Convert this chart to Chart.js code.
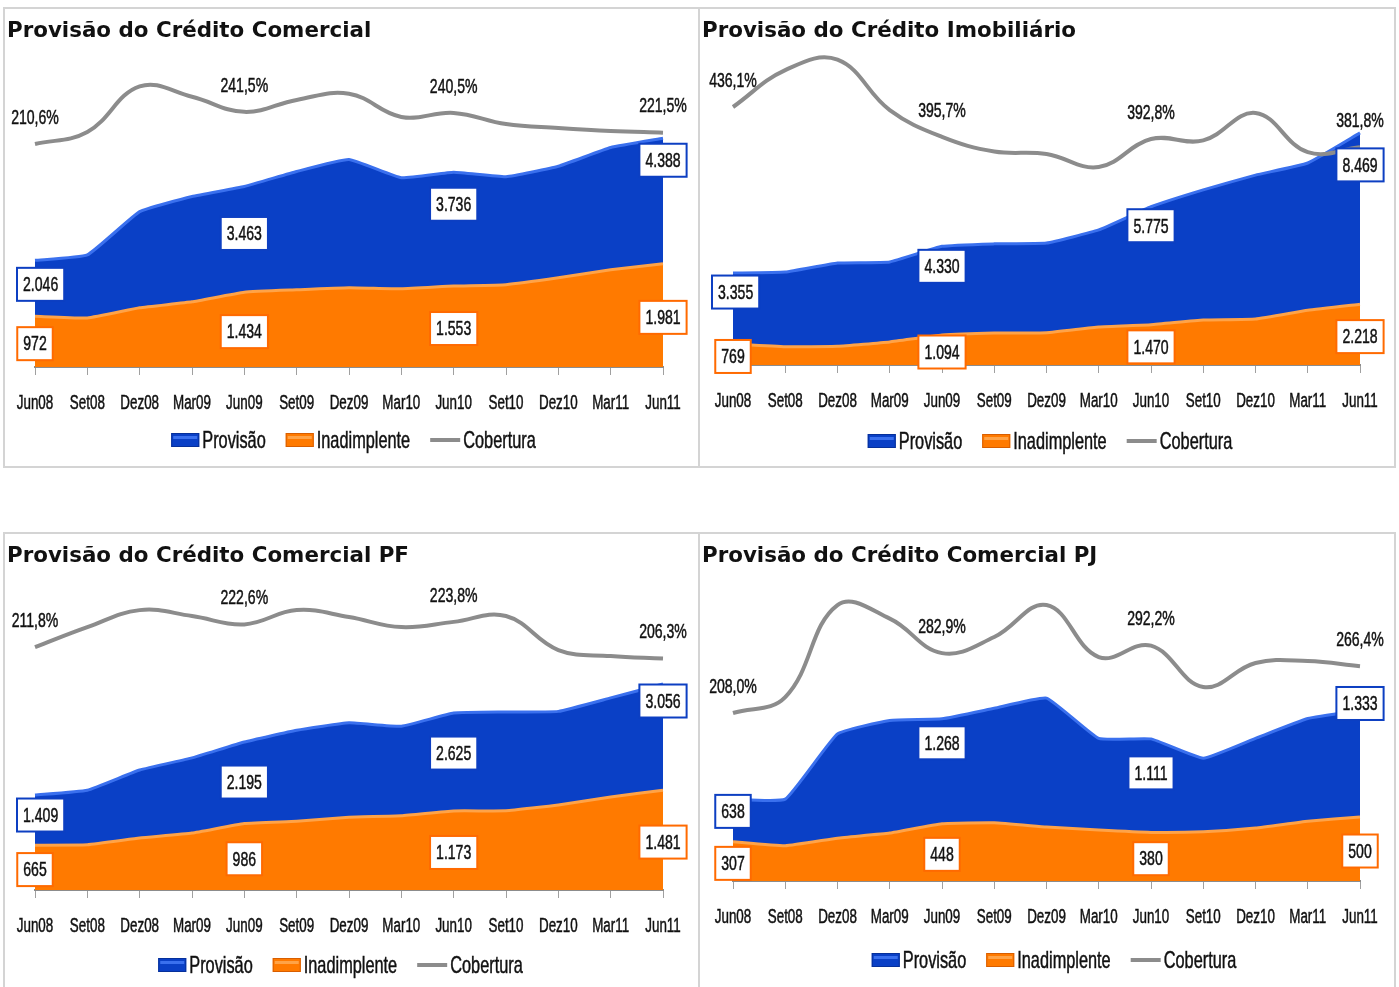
<!DOCTYPE html>
<html lang="pt-BR">
<head>
<meta charset="utf-8">
<title>Provisão do Crédito</title>
<script src="https://cdn.jsdelivr.net/npm/chart.js@4.4.1/dist/chart.umd.min.js"></script>
<style>
  html, body { margin: 0; padding: 0; background: #fff; overflow: hidden; width: 1399px; height: 987px; }
  .panel { position: absolute; box-sizing: border-box; border: 2px solid #d4d4d4; background: #fff; overflow: hidden; }
  .panel h2 { position: absolute; left: 2px; top: 8px; margin: 0; font: bold 21.4px 'DejaVu Sans', sans-serif; line-height: 26px; color: #111; white-space: nowrap; z-index: 2; }
  .panel canvas { position: absolute; left: 0; top: 0; }
</style>
</head>
<body>

<div class="panel" style="left:3px; top:7px; width:697px; height:461px;">
  <h2>Provisão do Crédito Comercial</h2>
  <canvas id="c1" width="693" height="457"></canvas>
</div>
<div class="panel" style="left:698px; top:7px; width:698px; height:461px;">
  <h2>Provisão do Crédito Imobiliário</h2>
  <canvas id="c2" width="694" height="457"></canvas>
</div>
<div class="panel" style="left:3px; top:532px; width:697px; height:461px;">
  <h2>Provisão do Crédito Comercial PF</h2>
  <canvas id="c3" width="693" height="457"></canvas>
</div>
<div class="panel" style="left:698px; top:532px; width:698px; height:461px;">
  <h2>Provisão do Crédito Comercial PJ</h2>
  <canvas id="c4" width="694" height="457"></canvas>
</div>

<script>
const categories = ['Jun08', 'Set08', 'Dez08', 'Mar09', 'Jun09', 'Set09', 'Dez09', 'Mar10', 'Jun10', 'Set10', 'Dez10', 'Mar11', 'Jun11'];
const labelAt = [0, 4, 8, 12];
const seriesNames = ['Provisão', 'Inadimplente', 'Cobertura'];

// Crédito Comercial
const comProvisao = [2046, 2150, 2980, 3270, 3463, 3750, 3980, 3630, 3736, 3650, 3850, 4210, 4388];
const comInadimplente = [972, 940, 1135, 1250, 1434, 1480, 1520, 1500, 1553, 1580, 1710, 1865, 1981];
const comCobertura = [210.6, 222.1, 266.0, 256.0, 241.5, 253.0, 259.0, 236.6, 240.5, 229.8, 226.0, 223.1, 221.5];

// Crédito Imobiliário
const imoProvisao = [3355, 3390, 3720, 3760, 4330, 4420, 4450, 4930, 5775, 6390, 6930, 7370, 8469];
const imoInadimplente = [769, 670, 680, 840, 1094, 1170, 1180, 1390, 1470, 1640, 1680, 2000, 2218];
const imoCobertura = [436.1, 486.0, 500.0, 432.0, 395.7, 376.0, 372.6, 355.0, 392.8, 391.0, 428.0, 375.0, 381.8];

// Crédito Comercial PF
const pfProvisao = [1409, 1480, 1780, 1960, 2195, 2370, 2480, 2430, 2625, 2640, 2650, 2850, 3056];
const pfInadimplente = [665, 670, 770, 845, 986, 1020, 1080, 1100, 1173, 1175, 1260, 1380, 1481];
const pfCobertura = [211.8, 221.3, 229.4, 226.6, 222.6, 229.4, 226.1, 221.3, 223.8, 226.6, 210.4, 207.5, 206.3];

// Crédito Comercial PJ
const pjProvisao = [638, 640, 1150, 1255, 1268, 1350, 1430, 1115, 1111, 960, 1115, 1270, 1333];
const pjInadimplente = [307, 275, 335, 375, 448, 455, 422, 398, 380, 385, 414, 467, 500];
const pjCobertura = [208.0, 228.0, 343.0, 326.0, 282.9, 303.0, 343.0, 278.0, 292.2, 240.5, 270.5, 273.0, 266.4];

const FONT = "'Liberation Sans', Arial, sans-serif";
const BLUE = '#0a40c6';
const BLUE_EDGE = '#3a70ee';
const ORANGE = '#ff7a00';
const ORANGE_EDGE = '#ffa347';
const GRAY = '#8c8c8c';

const fmtNum = v => String(v).replace(/\B(?=(\d{3})+(?!\d))/g, '.');
const fmtPct = v => v.toFixed(1).replace('.', ',') + '%';

// the original uses a very condensed face, so text is squeezed horizontally
function narrow(ctx, text, x, y, size, sx) {
    ctx.save();
    ctx.translate(x, y);
    ctx.scale(sx, 1);
    ctx.font = size + 'px ' + FONT;
    ctx.fillText(text, 0, 0);
    ctx.strokeStyle = ctx.fillStyle;
    ctx.lineWidth = 0.5;
    ctx.strokeText(text, 0, 0);
    ctx.restore();
}
function narrowWidth(ctx, text, size, sx) {
    ctx.save();
    ctx.font = size + 'px ' + FONT;
    const w = ctx.measureText(text).width * sx;
    ctx.restore();
    return w;
}

const annotate = {
    id: 'annotate',
    afterDatasetsDraw(chart, args, opts) {
        const ctx = chart.ctx;
        const area = chart.chartArea;
        const ds = chart.data.datasets;
        const xs = chart.scales.x;
        ctx.save();
        ctx.textBaseline = 'middle';
        ctx.fillStyle = '#111';

        // category labels under the ticks
        ctx.textAlign = 'center';
        chart.data.labels.forEach((lab, i) => {
            narrow(ctx, lab, xs.getPixelForTick(i), area.bottom + 36, 20, 0.67);
        });

        const drawBox = (x, y, text, color) => {
            const w = narrowWidth(ctx, text, 21, 0.67) + 12;
            const h = 33;
            x = Math.max(x, w / 2 + 12);
            ctx.fillStyle = '#fff';
            ctx.fillRect(x - w / 2, y - h / 2, w, h);
            ctx.lineWidth = 2;
            ctx.strokeStyle = color;
            ctx.strokeRect(x - w / 2, y - h / 2, w, h);
            ctx.fillStyle = '#111';
            narrow(ctx, text, x, y + 1, 21, 0.67);
        };

        labelAt.forEach((i, k) => {
            const pProv = chart.getDatasetMeta(0).data[i];
            const pInad = chart.getDatasetMeta(1).data[i];
            const pCob = chart.getDatasetMeta(2).data[i];
            drawBox(pProv.x, pProv.y + opts.provDy[k], fmtNum(ds[0].data[i]), '#0d3fc2');
            drawBox(pInad.x, (pInad.y + area.bottom) / 2 + 2, fmtNum(ds[1].data[i]), '#ff6a00');
            const t = fmtPct(ds[2].data[i]);
            const tw = narrowWidth(ctx, t, 21, 0.67);
            ctx.fillStyle = '#111';
            narrow(ctx, t, Math.max(pCob.x, tw / 2 + 6), pCob.y - 26, 21, 0.67);
        });

        // legend
        const size = 24, sx = 0.68;
        const items = seriesNames.map((name, k) => ({ name, k, w: narrowWidth(ctx, name, size, sx) }));
        const total = items.reduce((s, it) => s + 31 + it.w, 0) + 2 * 20 + 2;
        let x = chart.width / 2 - total / 2 + opts.legendDx;
        const y = area.bottom + opts.legendDy;
        ctx.textAlign = 'left';
        items.forEach(it => {
            const d = ds[it.k];
            if (it.k < 2) {
                ctx.fillStyle = d.backgroundColor;
                ctx.fillRect(x, y - 7, 28, 14);
                ctx.fillStyle = d.borderColor;
                ctx.fillRect(x + 2, y - 4, 24, 3);
                ctx.strokeStyle = it.k === 0 ? '#06309a' : '#d85e00';
                ctx.lineWidth = 1;
                ctx.strokeRect(x + 0.5, y - 6.5, 27, 13);
                x += 31;
            } else {
                ctx.strokeStyle = d.borderColor;
                ctx.lineWidth = 4;
                ctx.beginPath();
                ctx.moveTo(x, y);
                ctx.lineTo(x + 30, y);
                ctx.stroke();
                x += 33;
            }
            ctx.fillStyle = '#111';
            narrow(ctx, it.name, x, y + 1, size, sx);
            x += it.w + 20;
        });
        ctx.restore();
    }
};

function makeChart(id, prov, inad, cob, opt) {
    return new Chart(document.getElementById(id), {
        type: 'line',
        data: {
            labels: categories,
            datasets: [
                { label: seriesNames[0], data: prov, yAxisID: 'y', fill: 'origin', backgroundColor: BLUE, borderColor: BLUE_EDGE, borderWidth: 3, pointRadius: 0, tension: 0.12, order: 3 },
                { label: seriesNames[1], data: inad, yAxisID: 'y', fill: 'origin', backgroundColor: ORANGE, borderColor: ORANGE_EDGE, borderWidth: 3, pointRadius: 0, tension: 0.12, order: 2 },
                { label: seriesNames[2], data: cob, yAxisID: 'y2', fill: false, borderColor: GRAY, borderWidth: 4, pointRadius: 0, tension: 0.4, order: 1 }
            ]
        },
        options: {
            responsive: false,
            animation: false,
            layout: { padding: { top: 40, left: opt.left, right: opt.right, bottom: 80 } },
            plugins: {
                tooltip: { enabled: false },
                legend: { display: false },
                annotate: { provDy: opt.provDy, legendDy: opt.legendDy, legendDx: opt.legendDx }
            },
            scales: {
                x: {
                    offset: false,
                    grid: { drawOnChartArea: false, drawTicks: true, tickLength: 8, color: '#a0a0a0' },
                    border: { display: true, color: '#8c8c8c', width: 2 },
                    ticks: { display: false, autoSkip: false }
                },
                y: { display: false, min: 0, max: opt.yMax },
                y2: { display: false, min: opt.cMin, max: opt.cMax }
            }
        },
        plugins: [annotate]
    });
}

const layouts = [
    { left: 30, right: 35, bottom: 358, yMax: 6100, cMin: -4, cMax: 302, provDy: [24, 47, 32, 22], legendDy: 73, legendDx: 2 },
    { left: 33, right: 34, bottom: 356, yMax: 11530, cMin: 87.4, cMax: 514.5, provDy: [19, 20, 19, 32], legendDy: 76, legendDx: 3 },
    { left: 30, right: 35, bottom: 356, yMax: 4688, cMin: 96.1, cMax: 246.6, provDy: [20, 40, 40, 17], legendDy: 75, legendDx: -11 },
    { left: 33, right: 34, bottom: 347, yMax: 2400, cMin: -2, cMax: 381.8, provDy: [12, 24, 34, -7], legendDy: 79, legendDx: 7 }
];

const charts = [
    makeChart('c1', comProvisao, comInadimplente, comCobertura, layouts[0]),
    makeChart('c2', imoProvisao, imoInadimplente, imoCobertura, layouts[1]),
    makeChart('c3', pfProvisao, pfInadimplente, pfCobertura, layouts[2]),
    makeChart('c4', pjProvisao, pjInadimplente, pjCobertura, layouts[3])
];

// move the plot bottom to where the original axis sits
charts.forEach((ch, k) => {
    ch.options.layout.padding.bottom += ch.chartArea.bottom - layouts[k].bottom;
    ch.update();
});
</script>
</body>
</html>
